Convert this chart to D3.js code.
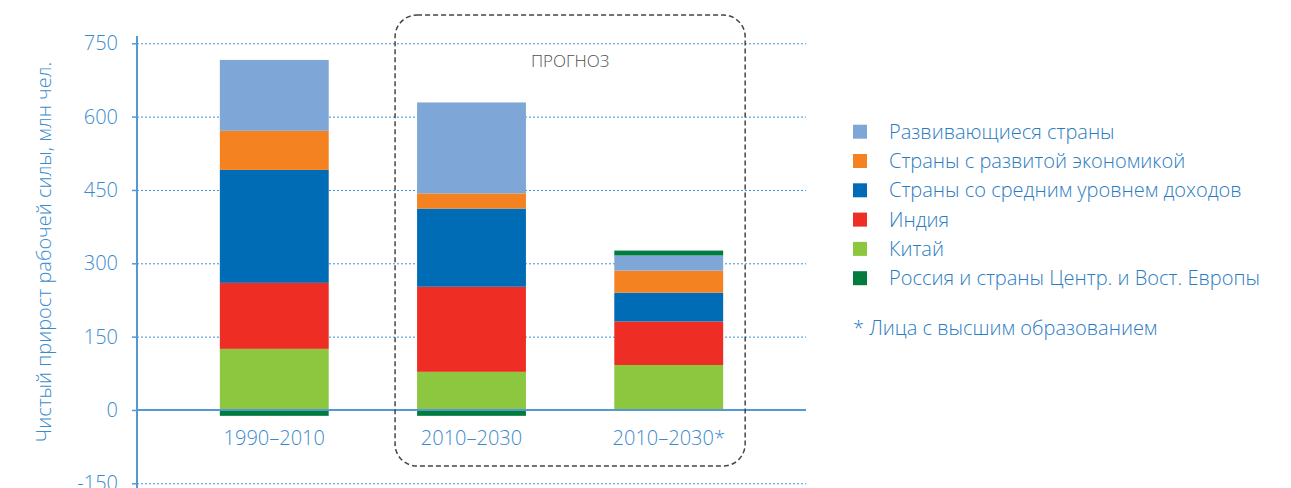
<!DOCTYPE html>
<html>
<head>
<meta charset="utf-8">
<script src="https://cdn.jsdelivr.net/npm/d3@7/dist/d3.min.js"></script>
<style>
  body { margin: 0; background: #fff; }
  svg text { font-family: "Open Sans", sans-serif; font-weight: 300; }
</style>
</head>
<body>
<div id="chart"></div>
<script>
// data, million people
var periods = ["1990–2010", "2010–2030", "2010–2030*"];
var keys = ["china", "india", "middle", "developed", "developing", "russia"];
var china      = [125,  78, 92];
var india      = [135, 174, 89];
var middle     = [231, 160, 59];
var developed  = [ 80,  31, 45];
var developing = [145, 186, 31];
var russia     = [-12, -12, 10];
var yTicks = [-150, 0, 150, 300, 450, 600, 750];

var names = {
	developing: "Развивающиеся страны",
	developed: "Страны с развитой экономикой",
	middle: "Страны со средним уровнем доходов",
	india: "Индия",
	china: "Китай",
	russia: "Россия и страны Центр. и Вост. Европы"
};
var colors = {
	developing: "#7ea7d8",
	developed: "#f58220",
	middle: "#006cb6",
	india: "#ee2e24",
	china: "#8dc63f",
	russia: "#007c3e"
};
var legendOrder = ["developing", "developed", "middle", "india", "china", "russia"];

var table = periods.map(function(p, i) {
	return {period: p, china: china[i], india: india[i], middle: middle[i],
		developed: developed[i], developing: developing[i], russia: russia[i]};
});

var width = 1291, height = 488;
var axisX = 137, plotRight = 806;
var blue = "#3a8bcc";
var textBlue = "#2a7cc2";

var svg = d3.select("#chart").append("svg")
	.attr("width", width)
	.attr("height", height);

var x = d3.scaleBand()
	.domain(periods)
	.range([axisX, plotRight])
	.paddingInner(0.448)
	.paddingOuter(0.42);

var y = d3.scaleLinear()
	.domain([-150, 750])
	.range([483.3, 43.3]);

// grid
svg.append("g")
	.selectAll("line")
	.data(yTicks.filter(function(d) { return d !== 0; }))
	.enter().append("line")
	.attr("x1", axisX).attr("x2", plotRight)
	.attr("y1", function(d) { return y(d) + 0.5; })
	.attr("y2", function(d) { return y(d) + 0.5; })
	.attr("stroke", "#3d8fd3")
	.attr("stroke-width", 1)
	.attr("stroke-dasharray", "2,2");

// bars
var series = d3.stack().keys(keys).offset(d3.stackOffsetDiverging)(table);

svg.append("g")
	.selectAll("g")
	.data(series)
	.enter().append("g")
	.attr("fill", function(d) { return colors[d.key]; })
	.selectAll("rect")
	.data(function(d) { return d; })
	.enter().append("rect")
	.attr("x", function(d) { return x(d.data.period); })
	.attr("width", x.bandwidth())
	.attr("y", function(d) { return y(d[1]); })
	.attr("height", function(d) { return y(d[0]) - y(d[1]); });

// zero line
svg.append("line")
	.attr("x1", axisX).attr("x2", plotRight)
	.attr("y1", y(0)).attr("y2", y(0))
	.attr("stroke", "#5499d3")
	.attr("stroke-width", 2);

// y axis
var yAxis = svg.append("g")
	.attr("transform", "translate(" + axisX + ",0)")
	.call(d3.axisLeft(y)
		.tickValues(yTicks)
		.tickFormat(function(d) { return String(d); })
		.tickSize(5)
		.tickPadding(14));
yAxis.select(".domain").remove();
yAxis.selectAll(".tick line").attr("stroke", "#5499d3").attr("stroke-width", 1.5);
yAxis.selectAll(".tick text")
	.attr("fill", blue)
	.style("font-size", "20px")
	.style("font-family", "Open Sans")
	.style("font-weight", 300);

svg.append("line")
	.attr("x1", axisX).attr("x2", axisX)
	.attr("y1", 36).attr("y2", height)
	.attr("stroke", "#5499d3")
	.attr("stroke-width", 2);

// x labels
svg.append("g")
	.selectAll("text")
	.data(periods)
	.enter().append("text")
	.attr("x", function(d) { return x(d) + x.bandwidth() / 2; })
	.attr("y", 445)
	.attr("text-anchor", "middle")
	.attr("fill", blue)
	.style("font-size", "20px")
	.text(function(d) { return d; });

// y title
svg.append("text")
	.attr("transform", "translate(51,252) rotate(-90)")
	.attr("text-anchor", "middle")
	.attr("fill", blue)
	.style("font-size", "20px")
	.text("Чистый прирост рабочей силы, млн чел.");

// forecast box
var bx0 = x(periods[1]) - 22, bx1 = x(periods[2]) + x.bandwidth() + 22;
svg.append("rect")
	.attr("x", bx0).attr("y", 15)
	.attr("width", bx1 - bx0).attr("height", 451)
	.attr("rx", 22).attr("ry", 22)
	.attr("fill", "none")
	.attr("stroke", "#444")
	.attr("stroke-width", 1.5)
	.attr("stroke-dasharray", "5,3");

svg.append("text")
	.attr("x", (bx0 + bx1) / 2)
	.attr("y", 67)
	.attr("text-anchor", "middle")
	.attr("fill", "#505050")
	.style("font-size", "17px")
	.text("ПРОГНОЗ");

// legend
var legend = svg.append("g")
	.selectAll("g")
	.data(legendOrder)
	.enter().append("g")
	.attr("transform", function(d, i) { return "translate(853," + (131.7 + i * 29.3) + ")"; });

legend.append("rect")
	.attr("x", 0).attr("y", -7)
	.attr("width", 14).attr("height", 14)
	.attr("fill", function(d) { return colors[d]; });

legend.append("text")
	.attr("x", 36)
	.attr("y", 7)
	.attr("fill", textBlue)
	.style("font-size", "20px")
	.text(function(d) { return names[d]; });

svg.append("text")
	.attr("x", 853)
	.attr("y", 335)
	.attr("fill", textBlue)
	.style("font-size", "20px")
	.text("* Лица с высшим образованием");
</script>
</body>
</html>
